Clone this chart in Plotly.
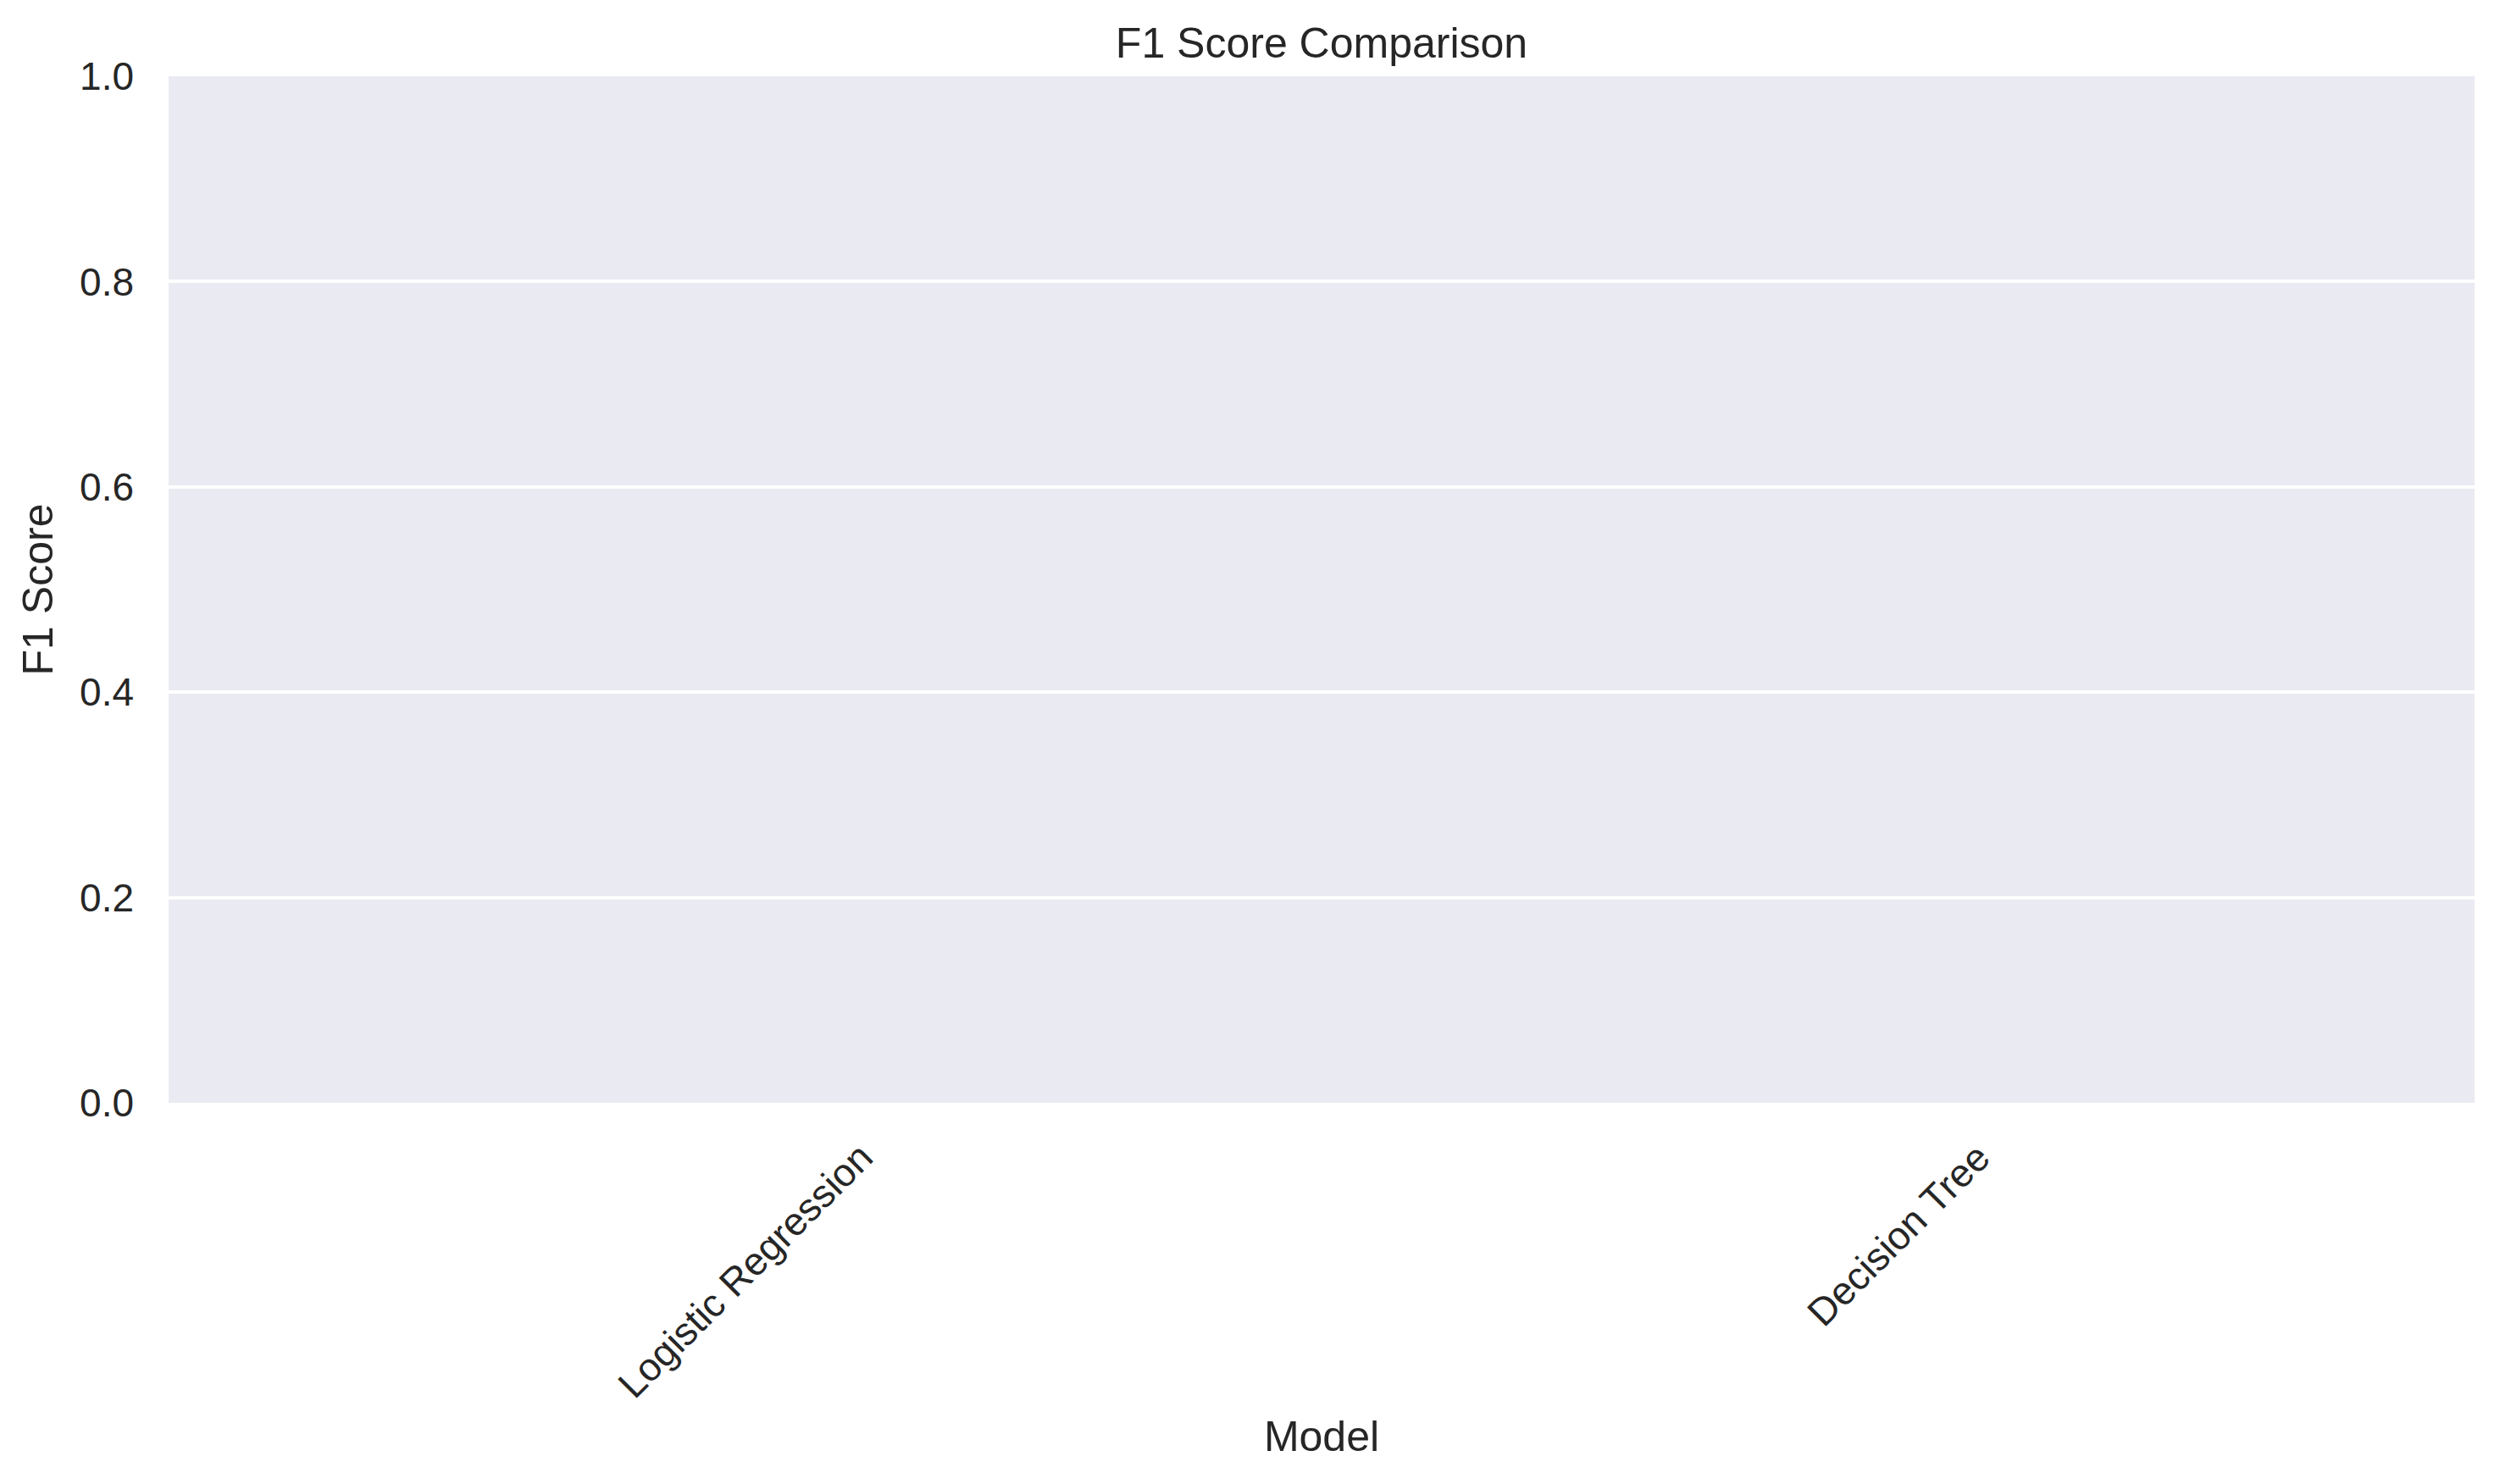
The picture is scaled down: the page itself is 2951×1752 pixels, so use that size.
import plotly.graph_objects as go

# data
models = ["Logistic Regression", "Decision Tree"]
f1_scores = [0.0, 0.0]
y_ticks = [0.0, 0.2, 0.4, 0.6, 0.8, 1.0]

W, H = 2951, 1752
FONT = "Arial, Liberation Sans, DejaVu Sans, sans-serif"
TXT = "#262626"

fig = go.Figure()

fig.add_trace(go.Bar(x=models, y=f1_scores, marker_color="#4c72b0",
                     showlegend=False))

# rotated category labels, centred on each tick like matplotlib rotation=45
for m in models:
    fig.add_annotation(x=m, xref="x", y=-0.029, yref="paper",
                       text=m, textangle=-45, showarrow=False,
                       xanchor="center", yanchor="top",
                       font=dict(family=FONT, size=46, color=TXT))

fig.update_layout(
    width=W, height=H,
    margin=dict(l=191, r=38, t=82, b=458),
    paper_bgcolor="white",
    plot_bgcolor="#EAEAF2",
    font=dict(family=FONT, color=TXT),
    title=dict(text="F1 Score Comparison", x=0.5, xref="paper",
               y=1 - 42 / H, yanchor="middle",
               font=dict(size=50, color=TXT)),
)

fig.update_xaxes(
    showticklabels=False, showgrid=False, zeroline=False,
    range=[-0.5, 1.5],
    title=dict(text="Model", standoff=375, font=dict(size=50, color=TXT)),
)
fig.update_yaxes(
    range=[0, 1], tickvals=y_ticks, ticktext=[f"{v:.1f}" for v in y_ticks],
    showgrid=True, gridcolor="white", gridwidth=3.5, zeroline=False,
    tickfont=dict(size=46, color=TXT), ticklabelstandoff=40,
    title=dict(text="F1 Score", standoff=15, font=dict(size=50, color=TXT)),
)

fig.write_html("out.html")
